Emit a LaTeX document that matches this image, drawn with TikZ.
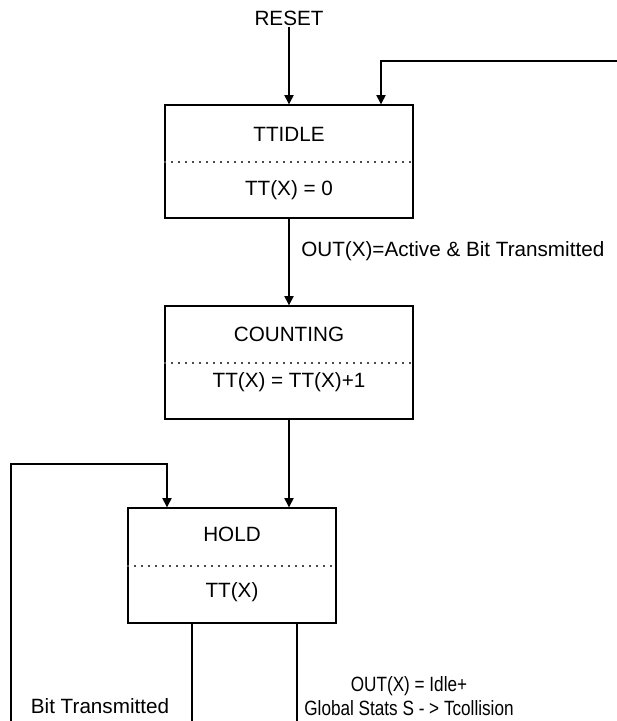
\documentclass[tikz,border=0pt]{standalone}
\usepackage{fontspec}
\setmainfont{Liberation Sans}
\usetikzlibrary{arrows.meta}

\tikzset{
  statebox/.style={draw, line width=1pt, inner sep=0pt},
  divider/.style={dash pattern=on 1.5pt off 3.75pt, line width=0.9pt, black!70},
  flow/.style={line width=0.8pt, -{Triangle[length=7pt,width=7pt]}},
  wire/.style={line width=0.8pt},
  lbl/.style={inner sep=0.75pt, font=\fontsize{15.5}{18.5}\selectfont, align=center}
}

\begin{document}
\begin{tikzpicture}[x=0.75pt,y=0.75pt,yscale=-1,xscale=1]
\useasboundingbox (0,0) rectangle (617,721);

%State boxes
\node [statebox, minimum width=186pt, minimum height=84.75pt] (ttidle) at (289,161.5) {};
\node [statebox, minimum width=186pt, minimum height=84.75pt] (counting) at (289,362.5) {};
\node [statebox, minimum width=156pt, minimum height=86.25pt] (hold) at (232,565.5) {};

%Dotted dividers
\draw [divider] (ttidle.west |- 0,162) -- (ttidle.east |- 0,162);
\draw [divider] (counting.west |- 0,363) -- (counting.east |- 0,363);
\draw [divider] (hold.west |- 0,566) -- (hold.east |- 0,566);

% Text Node
\node [lbl] (reset) at (289,18) {RESET};
% Text Node
\node [lbl] at (289,134) {TTIDLE};
% Text Node
\node [lbl] at (289,190) {TT(X) = 0};
% Text Node
\node [lbl] at (289,334) {COUNTING};
% Text Node
\node [lbl] at (289,382) {TT(X) = TT(X)+1};
% Text Node
\node [lbl] at (232,534) {HOLD};
% Text Node
\node [lbl] at (232,592) {TT(X)};
% Text Node
\node [lbl, anchor=west] (active) at (300,251) {OUT(X)=Active \& Bit Transmitted};
% Text Node
\node [lbl] (bittx) at (100,706) {Bit Transmitted};
% Text Node
\node [lbl] (idle) at (409,696) {\scalebox{0.83}[1]{OUT(X) = Idle+}\\\scalebox{0.83}[1]{Global Stats S - > Tcollision}};

%Coordinates for loose ends
\coordinate (topright) at (617,61);
\coordinate (leftend) at (11,721);
\coordinate (midend) at (192,721);
\coordinate (rightend) at (297,721);

%Connectors
\draw [flow] (ttidle.north |- reset.south) -- (ttidle.north);
\draw [flow] (topright) -- ([xshift=69pt]ttidle.north |- topright) -- ([xshift=69pt]ttidle.north);
\draw [flow] (ttidle.south) -- (counting.north);
\draw [flow] (counting.south) -- (counting.south |- hold.north);
\draw [flow] (leftend) -- (leftend |- 0,464) -- ([xshift=-48.75pt]hold.north |- 0,464) -- ([xshift=-48.75pt]hold.north);
\draw [wire] (hold.south -| midend) -- (midend);
\draw [wire] (hold.south -| rightend) -- (rightend);

\end{tikzpicture}
\end{document}
